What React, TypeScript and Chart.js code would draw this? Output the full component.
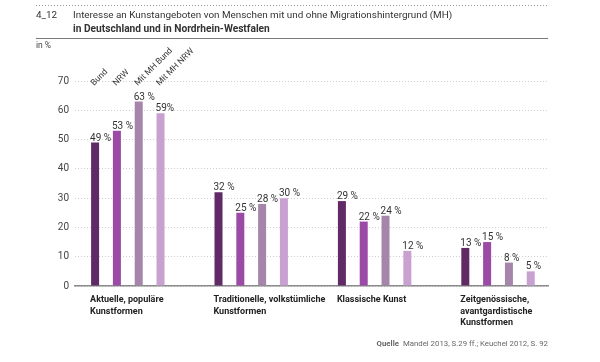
import React, { useEffect, useRef } from "react";
import { Chart, registerables } from "chart.js";

Chart.register(...registerables);

const categories: string[][] = [
  ["Aktuelle, populäre", "Kunstformen"],
  ["Traditionelle, volkstümliche", "Kunstformen"],
  ["Klassische Kunst"],
  ["Zeitgenössische,", "avantgardistische", "Kunstformen"],
];
const seriesNames = ["Bund", "NRW", "Mit MH Bund", "Mit MH NRW"];
const bund = [49, 32, 29, 13];
const nrw = [53, 25, 22, 15];
const mhBund = [63, 28, 24, 8];
const mhNrw = [59, 30, 12, 5];
const valueLabels: string[][] = [
  ["49 %", "32 %", "29 %", "13 %"],
  ["53 %", "25 %", "22 %", "15 %"],
  ["63 %", "28 %", "24 %", "8 %"],
  ["59%", "30 %", "12 %", "5 %"],
];
const seriesColors = ["#5f2a66", "#9b4aa6", "#a585aa", "#c9a1d1"];
const yMin = 0;
const yMax = 70;
const yStep = 10;
const titleNumber = "4_12";
const titleLine1 = "Interesse an Kunstangeboten von Menschen mit und ohne Migrationshintergrund (MH)";
const titleLine2 = "in Deutschland und in Nordrhein-Westfalen";
const unitLabel = "in %";
const sourceLabel = "Quelle";
const sourceText = "Mandel 2013, S.29 ff.; Keuchel 2012, S. 92";

const FONT = "Roboto, 'Liberation Sans', sans-serif";

const textPlugin = {
  id: "textPlugin",
  afterDraw(chart: any) {
    const ctx: CanvasRenderingContext2D = chart.ctx;
    const area = chart.chartArea;
    ctx.save();

    // Header lines
    ctx.strokeStyle = "#9a9a9a";
    ctx.lineWidth = 1;
    ctx.setLineDash([1, 2]);
    ctx.beginPath();
    ctx.moveTo(36, 5.5);
    ctx.lineTo(548, 5.5);
    ctx.stroke();
    ctx.setLineDash([]);
    ctx.strokeStyle = "#7a7a7a";
    ctx.beginPath();
    ctx.moveTo(36, 38.5);
    ctx.lineTo(548, 38.5);
    ctx.stroke();

    ctx.fillStyle = "#333";
    ctx.textBaseline = "middle";
    ctx.textAlign = "left";
    ctx.font = `9.9px ${FONT}`;
    ctx.fillText(titleNumber, 36, 16);
    ctx.fillText(titleLine1, 73, 16);
    ctx.font = `bold 10.2px ${FONT}`;
    ctx.fillText(titleLine2, 73, 29);
    ctx.font = `8.5px ${FONT}`;
    ctx.fillStyle = "#444";
    ctx.fillText(unitLabel, 36, 46);

    // Source
    ctx.textAlign = "right";
    ctx.fillStyle = "#666";
    ctx.font = `7.8px ${FONT}`;
    ctx.fillText(sourceText, 548, 344);
    const w = ctx.measureText(sourceText).width;
    ctx.font = `bold 7.8px ${FONT}`;
    ctx.fillText(sourceLabel, 548 - w - 4, 344);

    // Value labels
    ctx.textAlign = "left";
    ctx.textBaseline = "alphabetic";
    ctx.font = `10px ${FONT}`;
    ctx.fillStyle = "#333";
    chart.data.datasets.forEach((ds: any, di: number) => {
      const meta = chart.getDatasetMeta(di);
      meta.data.forEach((bar: any, i: number) => {
        const left = bar.x - bar.width / 2;
        ctx.fillText(valueLabels[di][i], left - 1, bar.y - 2);
      });
    });

    // Rotated series labels above first group
    ctx.font = `8.5px ${FONT}`;
    ctx.fillStyle = "#333";
    chart.data.datasets.forEach((ds: any, di: number) => {
      const bar: any = chart.getDatasetMeta(di).data[0];
      const left = bar.x - bar.width / 2;
      ctx.save();
      ctx.translate(left + 3, area.top + 5);
      ctx.rotate(-Math.PI / 4);
      ctx.textAlign = "left";
      ctx.textBaseline = "alphabetic";
      ctx.fillText(ds.label, 0, 0);
      ctx.restore();
    });

    // Category labels
    ctx.font = `bold 9px ${FONT}`;
    ctx.fillStyle = "#222";
    ctx.textBaseline = "middle";
    const meta0 = chart.getDatasetMeta(0);
    categories.forEach((lines, i) => {
      const bar: any = meta0.data[i];
      const left = bar.x - bar.width / 2;
      lines.forEach((line, k) => {
        ctx.fillText(line, left - 1, 300 + k * 11.4);
      });
    });

    ctx.restore();
  },
};

export default function App() {
  const canvasRef = useRef<HTMLCanvasElement | null>(null);

  useEffect(() => {
    document.body.style.margin = "0";
    const canvas = canvasRef.current;
    if (!canvas) return;
    const series = [bund, nrw, mhBund, mhNrw];
    const chart = new Chart(canvas, {
      type: "bar",
      data: {
        datasets: series.map((vals, si) => ({
          label: seriesNames[si],
          data: vals.map((v, i) => ({ x: i, y: v })),
          backgroundColor: seriesColors[si],
          borderWidth: 0,
          categoryPercentage: 0.707,
          barPercentage: 0.367,
        })),
      },
      options: {
        animation: false,
        responsive: true,
        maintainAspectRatio: false,
        layout: { padding: { top: 81, right: 52, left: 0, bottom: 0 } },
        plugins: { legend: { display: false }, tooltip: { enabled: false } },
        scales: {
          x: {
            type: "linear",
            offset: false,
            min: -0.428,
            max: 3.405,
            ticks: { display: false, stepSize: 1, includeBounds: false },
            grid: { display: false, offset: false },
            border: { display: true, color: "#8a8a8a", width: 1.5 },
            afterFit: (s: any) => {
              s.height = 76;
            },
          },
          y: {
            min: yMin,
            max: yMax,
            ticks: {
              stepSize: yStep,
              padding: 6,
              color: "#444",
              font: { family: FONT, size: 10 },
            },
            grid: { color: "#cfcfcf", drawTicks: false, lineWidth: 1 },
            border: { display: false, dash: [1, 2] },
            afterFit: (s: any) => {
              s.width = 75;
            },
          },
        },
      } as any,
      plugins: [textPlugin],
    });
    return () => chart.destroy();
  }, []);

  return (
    <div style={{ width: 600, height: 362, position: "relative" }}>
      <canvas ref={canvasRef} />
    </div>
  );
}
